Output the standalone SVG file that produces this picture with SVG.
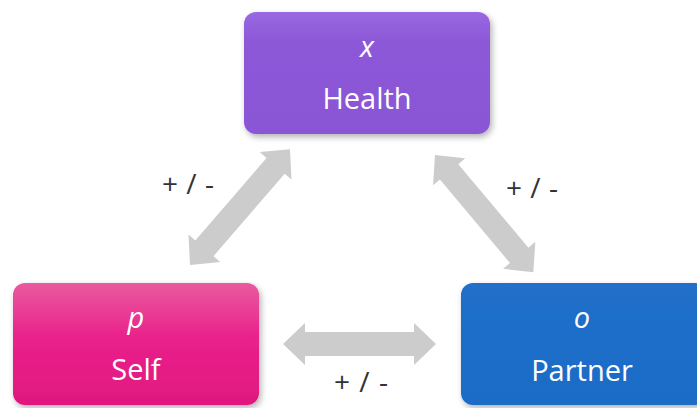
<svg xmlns="http://www.w3.org/2000/svg" width="697" height="408" viewBox="0 0 697 408">
<defs>
<linearGradient id="gP" x1="0" y1="0" x2="0" y2="1"><stop offset="0" stop-color="#9a68e2"/><stop offset="0.25" stop-color="#8c58d7"/><stop offset="1" stop-color="#8a56d6"/></linearGradient>
<linearGradient id="gS" x1="0" y1="0" x2="0" y2="1"><stop offset="0" stop-color="#ea5a9e"/><stop offset="0.45" stop-color="#ea218c"/><stop offset="1" stop-color="#e0187e"/></linearGradient>
<linearGradient id="gB" x1="0" y1="0" x2="0" y2="1"><stop offset="0" stop-color="#206fca"/><stop offset="1" stop-color="#1c6cc6"/></linearGradient>
<filter id="sh" x="-10%" y="-10%" width="125%" height="130%"><feDropShadow dx="2" dy="3" stdDeviation="3" flood-color="#000" flood-opacity="0.3"/></filter>
</defs>
<style>
.lbl{font-family:"Open Sans","Noto Sans",sans-serif;font-size:29px;fill:#ffffff;text-anchor:middle}
.it{font-style:italic}
.pm{font-family:"Open Sans","Noto Sans",sans-serif;font-size:28px;fill:#333333}
.arr{fill:#cccccc}
</style>
<g id="connectors">
<polygon class="arr" transform="translate(190,265) rotate(-49.2)" points="0,0 22,-21 22,-12 131,-12 131,-21 153,0 131,21 131,12 22,12 22,21"/>
<polygon class="arr" transform="translate(435,155) rotate(50)" points="0,0 22,-21 22,-12 131,-12 131,-21 153,0 131,21 131,12 22,12 22,21"/>
<polygon class="arr" transform="translate(283,344)" points="0,0 22,-21 22,-12 131,-12 131,-21 153,0 131,21 131,12 22,12 22,21"/>
<text class="pm" x="162" y="194" textLength="52" lengthAdjust="spacing">+ / -</text>
<text class="pm" x="506" y="198" textLength="52" lengthAdjust="spacing">+ / -</text>
<text class="pm" x="334" y="392" textLength="54" lengthAdjust="spacing">+ / -</text>
</g>
<g id="health">
<rect x="244" y="12" width="246" height="122" rx="12" fill="url(#gP)" filter="url(#sh)"/>
<text class="lbl it" x="367" y="57">x</text>
<text class="lbl" x="367" y="109">Health</text>
</g>
<g id="self">
<rect x="13" y="283" width="246" height="122" rx="12" fill="url(#gS)" filter="url(#sh)"/>
<text class="lbl it" x="136" y="328">p</text>
<text class="lbl" x="136" y="380">Self</text>
</g>
<g id="partner">
<rect x="461" y="283" width="246" height="122" rx="12" fill="url(#gB)" filter="url(#sh)"/>
<text class="lbl it" x="582" y="328">o</text>
<text class="lbl" x="582" y="381">Partner</text>
</g>
</svg>
